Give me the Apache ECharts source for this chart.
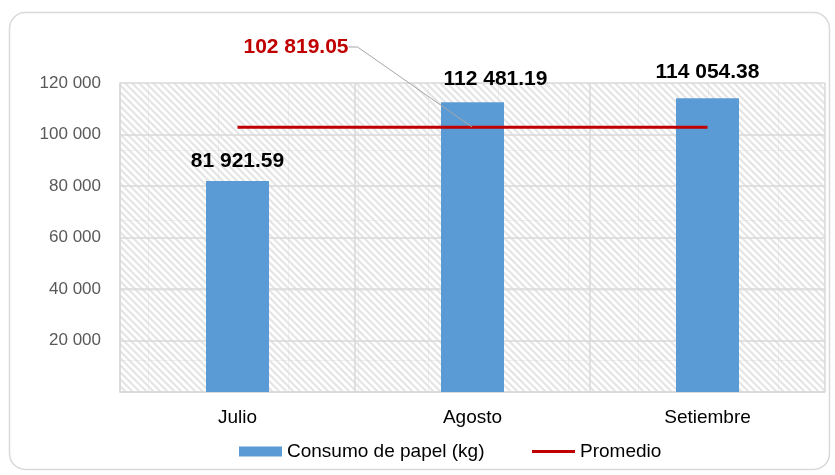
<!DOCTYPE html>
<html><head><meta charset="utf-8">
<script src="https://cdn.jsdelivr.net/npm/echarts@6/dist/echarts.min.js"></script>
<style>html,body{margin:0;padding:0;background:#fff}#c{width:835px;height:475px}</style>
</head><body><div id="c"></div>
<script>
const categories = ['Julio', 'Agosto', 'Setiembre'];
const consumo = [81921.59, 112481.19, 114054.38];
const promedio = [102819.05, 102819.05, 102819.05];
const yTicks = [0, 20000, 40000, 60000, 80000, 100000, 120000];

function fmt(v, dec) {
  const s = v.toFixed(dec);
  const parts = s.split('.');
  const int = parts[0].replace(/\B(?=(\d{3})+(?!\d))/g, ' ');
  return parts.length > 1 ? int + '.' + parts[1] : int;
}

// hatch pattern (70px tile, 7px stripe period, faint seams)
const T = 70, P = 7;
const tile = document.createElement('canvas');
tile.width = T; tile.height = T;
const tc = tile.getContext('2d');
tc.fillStyle = '#ffffff'; tc.fillRect(0, 0, T, T);
tc.strokeStyle = '#e5e5e5'; tc.lineWidth = 2.2;
tc.beginPath();
for (let k = -T; k <= 2 * T; k += P) {
  tc.moveTo(k - 2, -2); tc.lineTo(k + T + 2, T + 2);
}
tc.stroke();
tc.fillStyle = 'rgba(215,215,215,0.35)';
tc.fillRect(8, 0, 1, T);
tc.fillRect(0, 10, T, 1);

const labelOffsets = [[0, -2], [23, -6], [0, -9]];

const chart = echarts.init(document.getElementById('c'), null, {renderer: 'canvas'});
chart.setOption({
  animation: false,
  textStyle: {fontFamily: 'Liberation Sans, Arial, sans-serif'},
  graphic: [{
    type: 'rect', z: -10, silent: true,
    shape: {x: 9.5, y: 12.5, width: 820, height: 457, r: 16},
    style: {fill: 'none', stroke: '#d9d9d9', lineWidth: 1.5}
  }],
  grid: {left: 120, right: 10, top: 83, bottom: 83, show: true,
    backgroundColor: {image: tile, repeat: 'repeat'}, borderWidth: 0},
  legend: {
    left: 234, top: 437, itemGap: 46, itemWidth: 43, itemHeight: 10,
    textStyle: {fontSize: 19, color: '#000', fontFamily: 'Liberation Sans, Arial, sans-serif'},
    data: [
      {name: 'Consumo de papel (kg)', icon: 'rect'},
      {name: 'Promedio', itemStyle: {opacity: 0}, lineStyle: {color: '#C00000', width: 3}}
    ]
  },
  xAxis: {
    type: 'category', data: categories,
    axisLine: {show: true, lineStyle: {color: '#d9d9d9', width: 1.5}},
    axisTick: {show: false},
    splitLine: {show: true, lineStyle: {color: '#d9d9d9', width: 1.5}},
    axisLabel: {fontSize: 19, color: '#000', margin: 16}
  },
  yAxis: {
    type: 'value', min: yTicks[0], max: yTicks[yTicks.length - 1], interval: yTicks[1] - yTicks[0],
    axisLine: {show: true, lineStyle: {color: '#d9d9d9', width: 1.5}},
    axisTick: {show: false},
    splitLine: {show: true, lineStyle: {color: '#d9d9d9', width: 1.5}},
    axisLabel: {fontSize: 17, color: '#595959', margin: 19,
      formatter: v => v === 0 ? '' : fmt(v, 0)}
  },
  series: [{
    name: 'Consumo de papel (kg)', type: 'bar', barWidth: 63,
    itemStyle: {color: '#5B9BD5'},
    data: consumo.map((v, i) => ({value: v, label: {offset: labelOffsets[i]}})),
    label: {show: true, position: 'top', distance: 7, fontSize: 21, fontWeight: 'bold', color: '#000',
      formatter: p => fmt(p.value, 2)}
  }, {
    name: 'Promedio', type: 'line', symbol: 'none', z: 5,
    lineStyle: {color: '#C00000', width: 3},
    itemStyle: {color: '#C00000'},
    data: promedio.map((v, i) => i === 1
      ? {value: v, symbol: 'circle', symbolSize: 1, label: {show: true}}
      : {value: v}),
    label: {show: false, fontSize: 21, fontWeight: 'bold', color: '#C00000', padding: [6, 9, 0, 0],
      formatter: p => fmt(p.value, 2)},
    labelLine: {show: true, length2: 9, lineStyle: {color: '#a6a6a6', width: 1}},
    labelLayout: p => p.dataIndex === 1 ? {x: 300.5, y: 47, align: 'center', verticalAlign: 'middle'} : {}
  }]
});
</script></body></html>
